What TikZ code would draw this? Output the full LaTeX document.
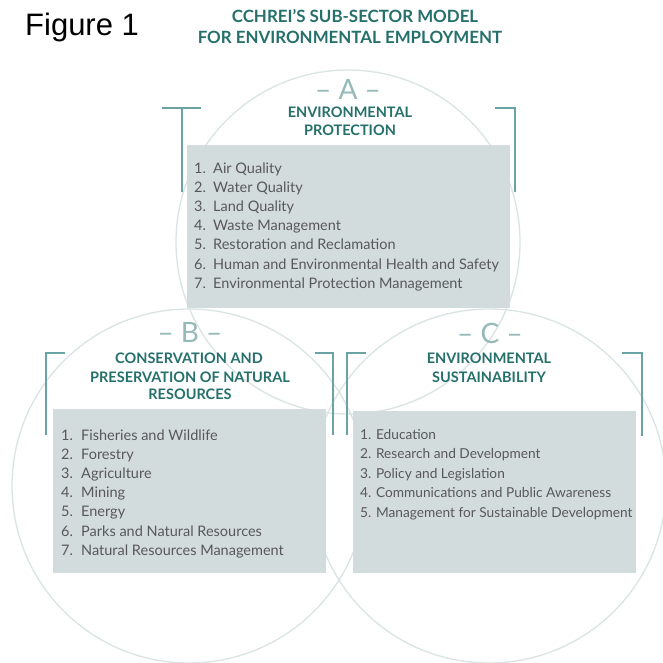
\documentclass[tikz,border=0pt]{standalone}
\usepackage{fontspec}
\setmainfont{Lato}
\newfontfamily\figfont{Liberation Sans}
\definecolor{ringc}{RGB}{218,228,228}
\definecolor{brk}{RGB}{105,163,163}
\definecolor{panelc}{RGB}{211,220,221}
\definecolor{headc}{RGB}{38,112,108}
\definecolor{itemc}{RGB}{88,88,88}
\definecolor{letc}{RGB}{150,185,185}
\tikzset{
  ring/.style={draw=ringc, line width=1.3pt},
  bracket/.style={draw=brk, line width=2pt},
  panel/.style={fill=panelc, draw=none, inner sep=0pt, anchor=north west},
  item/.style={anchor=base west, inner sep=0pt, text=itemc, font=\fontsize{14.5}{16}\selectfont},
  itemc/.style={item, font=\fontsize{13.7}{16}\selectfont},
  head/.style={anchor=base, inner sep=0pt, text=headc, font=\fontsize{14.5}{16}\selectfont\bfseries},
  title/.style={anchor=base, inner sep=0pt, text=headc, font=\fontsize{16.9}{18}\selectfont\bfseries},
  letter/.style={anchor=base, inner sep=0pt, text=letc, font=\fontsize{28}{30}\selectfont}
}
\begin{document}
\begin{tikzpicture}[x=1pt,y=-1pt]
\useasboundingbox (0,0) rectangle (663,663);
\fill[white] (0,0) rectangle (663,663);

% three overlapping rings
\draw[ring] (348,242) circle (172pt);
\draw[ring] (189,486) circle (177pt);
\draw[ring] (489,486) circle (177pt);

% caption and title
\node[anchor=base west, inner sep=0pt, font=\figfont\fontsize{31}{34}\selectfont] (fig) at (25,36) {Figure 1};
\node[title] (t1) at (355,23) {CCHREI'S SUB-SECTOR MODEL};
\node[title] (t2) at (350,44) {FOR ENVIRONMENTAL EMPLOYMENT};

% list panels
\node[panel, minimum width=323pt, minimum height=163pt] (boxA) at (187,145) {};
\node[panel, minimum width=273pt, minimum height=164pt] (boxB) at (53,409) {};
\node[panel, minimum width=283pt, minimum height=162pt] (boxC) at (353,411) {};

% corner brackets
\draw[bracket] (162,108) -- (201,108) (182,108) -- (182,192);
\draw[bracket] (495,108) -- (515,108) -- (515,192);
\draw[bracket] (65,353) -- (46,353) -- (46,435);
\draw[bracket] (315,353) -- (333,353) -- (333,435);
\draw[bracket] (366,353) -- (347,353) -- (347,435);
\draw[bracket] (622,353) -- (642,353) -- (642,436);

% section A
\node[letter] (letA) at (348,100) {– A –};
\node[head] (hA1) at (350,118) {ENVIRONMENTAL};
\node[head] (hA2) at (350,136) {PROTECTION};
\foreach \t [count=\i] in {Air Quality, Water Quality, Land Quality, Waste Management,
  Restoration and Reclamation, Human and Environmental Health and Safety,
  Environmental Protection Management}
  \node[item] (a\i) at (194,{173+19.2*(\i-1)}) {\makebox[19pt][l]{\i.}\t};

% section B
\node[letter] (letB) at (190,342) {– B –};
\node[head] (hB1) at (189,363) {CONSERVATION AND};
\node[head] (hB2) at (190,382) {PRESERVATION OF NATURAL};
\node[head] (hB3) at (190,399) {RESOURCES};
\foreach \t [count=\i] in {Fisheries and Wildlife, Forestry, Agriculture, Mining,
  Energy, Parks and Natural Resources, Natural Resources Management}
  \node[item] (b\i) at (61,{440+19.2*(\i-1)}) {\makebox[20pt][l]{\i.}\t};

% section C
\node[letter] (letC) at (490,343) {– C –};
\node[head] (hC1) at (489,363) {ENVIRONMENTAL};
\node[head] (hC2) at (489,382) {SUSTAINABILITY};
\foreach \t [count=\i] in {Education, Research and Development, Policy and Legislation,
  Communications and Public Awareness, Management for Sustainable Development}
  \node[itemc] (c\i) at (360,{439+19.5*(\i-1)}) {\i. \t};
\end{tikzpicture}
\end{document}
